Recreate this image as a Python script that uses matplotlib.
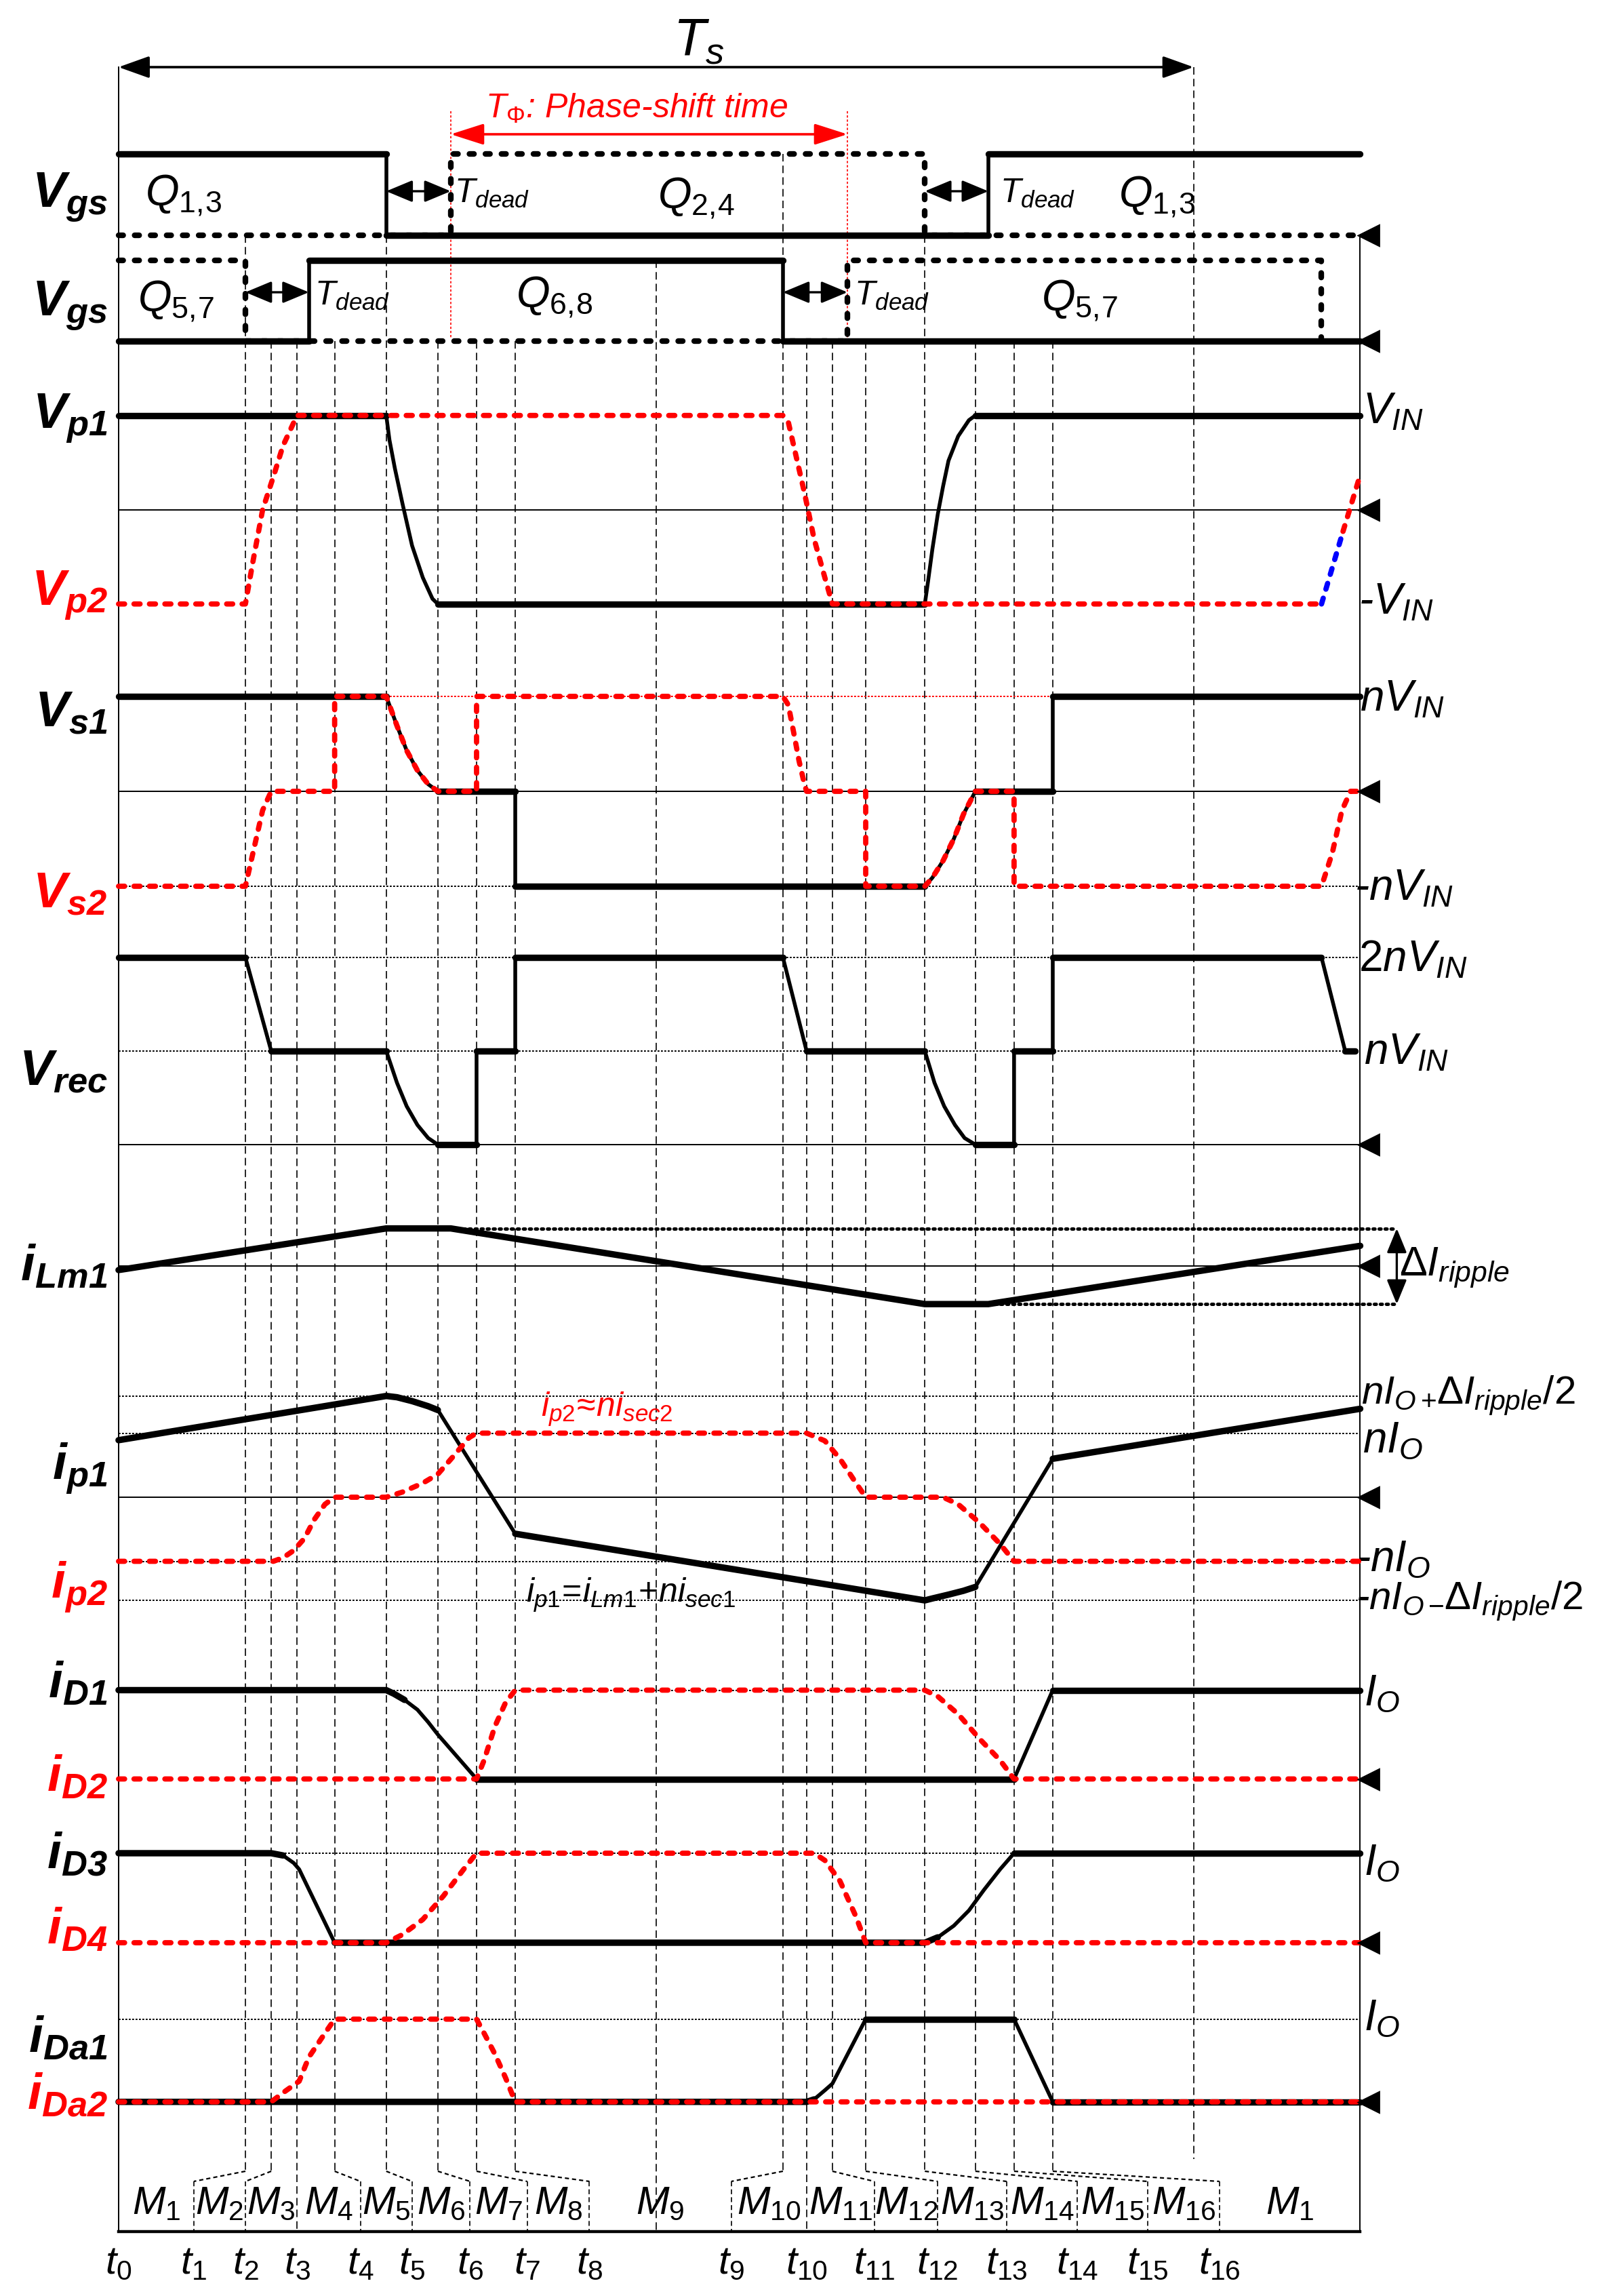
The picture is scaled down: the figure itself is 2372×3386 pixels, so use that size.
"""Timing diagram of the phase-shifted full-bridge converter (16 modes per Ts)."""

import matplotlib
matplotlib.use("Agg")
import matplotlib.pyplot as plt
import numpy as np
from matplotlib import font_manager

names = {f.name for f in font_manager.fontManager.ttflist}
FONT = "Liberation Sans" if "Liberation Sans" in names else "DejaVu Sans"

plt.rcParams.update({
    "font.family": [FONT, "DejaVu Sans"],
    "mathtext.fontset": "custom",
    "mathtext.rm": FONT,
    "mathtext.it": f"{FONT}:italic",
    "mathtext.bf": f"{FONT}:bold:italic",
    "mathtext.default": "it",
    "lines.scale_dashes": False,
})

# ---------------- time base (Ts = 100) ----------------
T_EV = [11.8, 14.2, 16.6, 20.1, 24.9, 29.7, 33.3, 36.9,
        61.8, 64.0, 66.4, 69.5, 75.0, 79.7, 83.3, 86.9]      # t1 .. t16
T_HALF, T_S, T_END = 50.0, 100.0, 115.5
T_PHI = (30.9, 67.8)
T_SEP = [0, 7.0, 11.8, 16.6, 22.5, 27.3, 32.7, 38.0, 43.8,
         57.0, 64.0, 70.3, 76.2, 82.6, 89.2, 95.7, 102.4]    # t0 .. t16 on axis
MODES = [f"M_{{{k}}}" for k in range(1, 17)] + ["M_{1}"]
T_NAMES = [f"t_{{{k}}}" for k in range(17)]

# ---------------- gate signals ----------------
VGS13_T = [0, 24.9, 24.9, 80.9, 80.9, T_END]
VGS13_V = [1, 1, 0, 0, 1, 1]
VGS24_T = [0, 30.9, 30.9, 75.0, 75.0, T_END]
VGS24_V = [0, 0, 1, 1, 0, 0]
VGS68_T = [0, 17.7, 17.7, 61.8, 61.8, T_END]
VGS68_V = [0, 0, 1, 1, 0, 0]
VGS57_T = [0, 11.8, 11.8, 67.8, 67.8, 111.9, 111.9]
VGS57_V = [1, 1, 0, 0, 1, 1, 0]

# ---------------- voltages (VIN = 1, nVIN = 1) ----------------
VP1_T = [0, 24.9, 25.2, 25.7, 26.4, 27.3, 28.3, 29.2, 29.7,
         75.0, 75.3, 75.7, 76.2, 76.7, 77.2, 78.1, 79.1, 79.7, T_END]
VP1_V = [1, 1, 0.74, 0.44, 0.07, -0.38, -0.72, -0.945, -1,
         -1, -0.76, -0.42, -0.05, 0.25, 0.52, 0.78, 0.95, 1, 1]
VP2_T = [0, 11.8, 12.5, 13.4, 14.4, 15.3, 16.6, 61.8, 62.3, 63.8, 64.7, 65.7, 66.4, 111.9]
VP2_V = [-1, -1, -0.55, 0, 0.35, 0.68, 1, 1, 0.93, 0.18, -0.31, -0.72, -1, -1]
VP2_BLUE_T = [111.9, 113.9]
VP2_BLUE_V = [-1, -0.23]
VP2_TAIL_T = [113.9, T_END]
VP2_TAIL_V = [-0.23, 0.37]

VS1_T = [0, 24.9, 25.9, 26.8, 27.8, 28.8, 29.7, 36.9, 36.9, 75.0, 75.7, 76.7, 77.7, 78.6,
         79.7, 86.9, 86.9, T_END]
VS1_V = [1, 1, 0.69, 0.43, 0.22, 0.075, 0, 0, -1, -1, -0.91, -0.73, -0.5, -0.24, 0, 0, 1, 1]
VS2_T = [0, 11.8, 12.5, 13.4, 14.2, 20.1, 20.1, 24.9, 25.9, 26.8, 27.8, 28.8, 29.7, 33.3,
         33.3, 61.8, 62.3, 62.8, 63.3, 63.8, 64.0, 69.5, 69.5, 75.0, 75.7, 76.7, 77.7, 78.6,
         79.7, 83.3, 83.3, 111.9, 112.9, 113.8, 114.6, 115.3]
VS2_V = [-1, -1, -0.65, -0.2, 0, 0, 1, 1, 0.69, 0.43, 0.22, 0.075, 0, 0,
         1, 1, 0.91, 0.62, 0.32, 0.075, 0, 0, -1, -1, -0.91, -0.73, -0.5, -0.24,
         0, 0, -1, -1, -0.65, -0.2, 0, 0]

VREC_T = [0, 11.8, 14.2, 24.9, 25.9, 26.8, 27.8, 28.8, 29.7, 33.3, 33.3, 36.9, 36.9,
          61.8, 64.0, 75.0, 75.9, 76.8, 77.8, 78.7, 79.7, 83.3, 83.3, 86.9, 86.9,
          111.9, 114.1, 115.0]
VREC_V = [2, 2, 1, 1, 0.66, 0.41, 0.21, 0.07, 0, 0, 1, 1, 2,
          2, 1, 1, 0.66, 0.41, 0.21, 0.07, 0, 0, 1, 1, 2,
          2, 1, 1]

# ---------------- currents ----------------
ILM_T = [0, 24.9, 30.9, 75.0, 80.9, T_END]          # dIripple/2 = 1
ILM_V = [-0.1, 1, 1, -1, -1, 0.54]
RIPPLE_TOP_T = [30.9, 118.9]
RIPPLE_BOT_T = [80.9, 118.9]

IP1_T = [0, 24.9, 25.9, 27.3, 28.8, 29.7, 36.9, 75.0, 75.7, 77.2, 78.6, 79.7, 86.9, T_END]
IP1_V = [0.89, 1.58, 1.56, 1.50, 1.42, 1.36, -0.57, -1.61, -1.58, -1.52, -1.46, -1.40, 0.60, 1.38]
IP2_T = [0, 14.4, 15.3, 16.3, 17.3, 18.2, 19.2, 20.1, 24.9, 26.4, 28.3, 29.7, 31.2, 32.6,
         33.3, 64.0, 65.7, 67.1, 68.6, 69.5, 76.7, 78.1, 80.1, 82.0, 83.3, T_END]
IP2_V = [-1, -1, -0.945, -0.83, -0.64, -0.35, -0.11, 0, 0, 0.08, 0.22, 0.36, 0.65, 0.93,
         1, 1, 0.88, 0.60, 0.22, 0, 0, -0.11, -0.40, -0.73, -1, -1]

ID1_T = [0, 24.9, 25.6, 26.6, 27.8, 28.8, 29.7, 33.3, 83.3, 86.9, T_END]
ID1_V = [1, 1, 0.96, 0.89, 0.78, 0.64, 0.5, 0, 0, 1, 1]
ID2_T = [0, 33.3, 34.0, 35.0, 36.0, 36.9, 75.0, 76.2, 78.1, 80.1, 82.0, 83.3, T_END]
ID2_V = [0, 0, 0.21, 0.59, 0.86, 1, 1, 0.93, 0.73, 0.45, 0.21, 0, 0]
ID3_T = [0, 14.2, 15.3, 16.3, 16.8, 20.1, 75.0, 76.2, 77.7, 79.1, 80.5, 82.0, 83.3, T_END]
ID3_V = [1, 1, 0.975, 0.89, 0.82, 0, 0, 0.06, 0.19, 0.36, 0.59, 0.82, 1, 1]
ID4_T = [0, 24.9, 26.4, 28.3, 30.2, 32.1, 33.3, 64.7, 65.7, 67.1, 68.6, 69.5, T_END]
ID4_V = [0, 0, 0.09, 0.26, 0.52, 0.82, 1, 1, 0.92, 0.69, 0.29, 0, 0]
IDA1_T = [0, 64.0, 64.7, 65.7, 66.4, 69.5, 83.3, 86.9, T_END]
IDA1_V = [0, 0, 0.03, 0.14, 0.22, 1, 1, 0, 0]
IDA2_T = [0, 14.2, 15.3, 16.8, 17.7, 19.2, 20.1, 33.3, 34.0, 35.0, 36.0, 36.9, T_END]
IDA2_V = [0, 0, 0.11, 0.25, 0.54, 0.83, 1, 1, 0.83, 0.58, 0.29, 0, 0]

# ---------------- layout (pixel rows: zero line, px per unit) ----------------
W, H, DPI = 2372, 3387, 200
PX0, SX = 174.9, 15.858
ROWS = {
    "vgs1": (348, 120), "vgs2": (504, 119), "vp": (752.7, 139), "vs": (1168, 140),
    "vrec": (1689, 138), "ilm": (1868.4, 55.8), "ip": (2209, 94.5),
    "id12": (2624.5, 131), "id34": (2866, 132), "ida": (3100.7, 122),
}
LW_THICK, LW_EDGE = 3.4, 2.0
RED = "#ff0000"

fig = plt.figure(figsize=(W / DPI, H / DPI), dpi=DPI)
ax = fig.add_axes([0, 0, 1, 1])
ax.set_xlim(-PX0 / SX, (W - PX0) / SX)
ax.set_ylim(H, 0)
ax.axis("off")


def y_of(row, v):
    base, amp = ROWS[row]
    return base - amp * np.asarray(v, float)


def draw_solid(t, v, row, color="black"):
    x = np.asarray(t, float)
    y = y_of(row, v)
    ax.plot(x, y, color=color, lw=LW_EDGE, solid_capstyle="round",
            solid_joinstyle="round", zorder=3)
    # slow parts of the waveform are drawn heavier, as in the original
    flat = np.abs(np.diff(y)) <= 0.6 * np.abs(np.diff(x)) * SX + 1e-9
    i, n = 0, len(flat)
    while i < n:
        if flat[i]:
            j = i
            while j + 1 < n and flat[j + 1]:
                j += 1
            ax.plot(x[i:j + 2], y[i:j + 2], color=color, lw=LW_THICK,
                    solid_capstyle="round", solid_joinstyle="round", zorder=3)
            i = j + 1
        else:
            i += 1


def draw_dotted(t, v, row, color=RED, lw=2.8, dashes=(3.2, 5.0), z=4):
    ax.plot(t, y_of(row, v), color=color, lw=lw, dashes=dashes,
            dash_capstyle="round", dash_joinstyle="round", zorder=z)


def hline(row, v, color="black", dotted=True, x1=T_END):
    kw = dict(dashes=(1.0, 0.8)) if dotted else {}
    ax.plot([0, x1], [y_of(row, v)] * 2, color=color, lw=0.7, zorder=1, **kw)


def arrow(x0, y0, x1, y1, color="black", hl=1.5, hw=0.48, lw=1.2):
    ax.annotate("", xy=(x1, y1), xytext=(x0, y0),
                arrowprops=dict(arrowstyle=f"<|-|>,head_length={hl},head_width={hw}",
                                color=color, lw=lw, mutation_scale=10,
                                shrinkA=0, shrinkB=0), zorder=5)


# ---------------- frame, event lines, leaders ----------------
Y_TOP_TS, Y_AXIS, Y_LA, Y_LB = 100, 3292, 3203, 3218
EV_TOP = [348, 504, 504, 504, 348, 504, 504, 504,
          228, 504, 504, 504, 348, 504, 504, 504]
DASH = dict(color="black", lw=0.6, dashes=(4.0, 2.2), zorder=1)

ax.plot([0, 0], [Y_TOP_TS, Y_AXIS], color="black", lw=0.7, zorder=1)
ax.plot([T_END, T_END], [348, Y_AXIS], color="black", lw=0.7, zorder=1)
ax.plot([0, T_END], [Y_AXIS, Y_AXIS], color="black", lw=1.6, zorder=2)
ax.plot([T_HALF, T_HALF], [385, Y_AXIS], **DASH)
ax.plot([T_S, T_S], [Y_TOP_TS, 3185], **DASH)
for tp in T_PHI:
    ax.plot([tp, tp], [165, 500], color=RED, lw=0.6, dashes=(1.2, 1.0), zorder=1)

for te, top, ts in zip(T_EV, EV_TOP, T_SEP[1:]):
    if abs(te - ts) < 0.05:
        ax.plot([te, te], [top, Y_AXIS], **DASH)
        continue
    ax.plot([te, te], [top, Y_LA], **DASH)
    ax.plot([te, ts], [Y_LA, Y_LB], color="black", lw=0.8, dashes=(2.2, 1.6), zorder=1)
    ax.plot([ts, ts], [Y_LB, Y_AXIS], color="black", lw=0.6, dashes=(2.6, 1.6), zorder=1)

# ---------------- reference levels ----------------
for row in ["vp", "vs", "vrec", "ilm", "ip"]:
    hline(row, 0, dotted=False)
hline("vs", 1, color=RED)
hline("vs", -1)
hline("vrec", 2)
hline("vrec", 1)
for lv in [1.58, 1.0, -1.0, -1.61]:
    hline("ip", lv)
for row in ["id12", "id34", "ida"]:
    hline(row, 1)

for row in ROWS:
    ax.plot([116.3], [y_of(row, 0)], marker="<", ms=11, color="black",
            mec="black", zorder=6, clip_on=False)

# ---------------- waveforms ----------------
draw_dotted(VGS24_T, VGS24_V, "vgs1", color="black", lw=3.0, dashes=(2.4, 6.1), z=2)
draw_solid(VGS13_T, VGS13_V, "vgs1")
draw_dotted(VGS57_T, VGS57_V, "vgs2", color="black", lw=3.0, dashes=(2.4, 6.1), z=2)
draw_solid(VGS68_T, VGS68_V, "vgs2")

draw_solid(VP1_T, VP1_V, "vp")
draw_dotted(VP2_T, VP2_V, "vp")
draw_dotted(VP2_BLUE_T, VP2_BLUE_V, "vp", color="#0000ff")
draw_dotted(VP2_TAIL_T, VP2_TAIL_V, "vp")

draw_solid(VS1_T, VS1_V, "vs")
draw_dotted(VS2_T, VS2_V, "vs")
draw_solid(VREC_T, VREC_V, "vrec")

draw_solid(ILM_T, ILM_V, "ilm")
for tt, lv in [(RIPPLE_TOP_T, 1), (RIPPLE_BOT_T, -1)]:
    ax.plot(tt, y_of("ilm", [lv, lv]), color="black", lw=1.8, dashes=(1.0, 2.2),
            dash_capstyle="round", zorder=2)
arrow(118.9, y_of("ilm", -1), 118.9, y_of("ilm", 1), hl=1.1, hw=0.45, lw=1.2)

draw_solid(IP1_T, IP1_V, "ip")
draw_dotted(IP2_T, IP2_V, "ip")
draw_solid(ID1_T, ID1_V, "id12")
draw_dotted(ID2_T, ID2_V, "id12")
draw_solid(ID3_T, ID3_V, "id34")
draw_dotted(ID4_T, ID4_V, "id34")
draw_solid(IDA1_T, IDA1_V, "ida")
draw_dotted(IDA2_T, IDA2_V, "ida")

# ---------------- arrows ----------------
arrow(0, Y_TOP_TS, T_S, Y_TOP_TS, hl=1.4, hw=0.5, lw=1.3)
arrow(T_PHI[0], 199, T_PHI[1], 199, color=RED, hl=1.5, hw=0.48, lw=1.3)
for a, b, yy in [(24.9, 30.9, 283), (75.0, 80.9, 283), (11.8, 17.7, 432), (61.8, 67.8, 432)]:
    arrow(a, yy, b, yy, hl=1.2, hw=0.5, lw=1.2)

# ---------------- text ----------------
ax.text(54.0, 62, r"$T_s$", fontsize=28, ha="center", va="center")
ax.text(34.1, 160, r"$T_{\Phi}$: Phase-shift time", fontsize=18, color=RED,
        style="italic", ha="left", va="center")

for tx, yy, s in [(6.0, 288, r"Q_{1,\!3}"), (53.7, 292, r"Q_{2,\!4}"), (96.6, 290, r"Q_{1,\!3}"),
                  (5.3, 444, r"Q_{5,\!7}"), (40.5, 438, r"Q_{6,\!8}"), (89.4, 443, r"Q_{5,\!7}")]:
    ax.text(tx, yy, f"${s}$", fontsize=23, ha="center", va="center")
for tx, yy in [(31.2, 285), (82.0, 285), (18.25, 436), (68.4, 436)]:
    ax.text(tx, yy, r"$T_{dead}$", fontsize=18, ha="left", va="center")

LEFT = [("V_{gs}", "black", 292), ("V_{gs}", "black", 452),
        ("V_{p1}", "black", 618), ("V_{p2}", RED, 879),
        ("V_{s1}", "black", 1051), ("V_{s2}", RED, 1318),
        ("V_{rec}", "black", 1580), ("i_{Lm1}", "black", 1868),
        ("i_{p1}", "black", 2166), ("i_{p2}", RED, 2341),
        ("i_{D1}", "black", 2483), ("i_{D2}", RED, 2621),
        ("i_{D3}", "black", 2735), ("i_{D4}", RED, 2846),
        ("i_{Da1}", "black", 3006), ("i_{Da2}", RED, 3090)]
for s, c, yy in LEFT:
    ax.text(-1.0, yy, rf"$\mathbf{{{s}}}$", fontsize=27, color=c, ha="right", va="center")

RIGHT = [(r"$V_{IN}$", 2010, 608, 23), (r"-$V_{IN}$", 2004, 889, 23),
         (r"$nV_{IN}$", 2006, 1032, 23), (r"-$nV_{IN}$", 1998, 1311, 23),
         (r"$2nV_{IN}$", 2004, 1416, 23), (r"$nV_{IN}$", 2012, 1553, 23),
         (r"$\Delta I_{ripple}$", 2064, 1870, 22),
         (r"$nI_{O+}\!\Delta I_{ripple}/2$", 2008, 2058, 21), (r"$nI_O$", 2010, 2125, 23),
         (r"-$nI_O$", 2000, 2300, 23), (r"-$nI_{O-}\!\Delta I_{ripple}/2$", 2000, 2361, 21),
         (r"$I_O$", 2012, 2498, 23), (r"$I_O$", 2012, 2748, 23), (r"$I_O$", 2012, 2977, 23)]
for s, xp, yy, fs in RIGHT:
    ax.text((xp - PX0) / SX, yy, s, fontsize=fs, style="italic", ha="left", va="center")

ax.text(39.3, 2078, r"$i_{p2}\!\approx\!ni_{sec2}$", fontsize=18, color=RED,
        ha="left", va="center")
ax.text(37.9, 2352, r"$i_{p1}\!=\!i_{Lm1}\!+\!ni_{sec1}$", fontsize=18,
        ha="left", va="center")

bounds = T_SEP + [T_END]
for k, s in enumerate(MODES):
    ax.text(0.5 * (bounds[k] + bounds[k + 1]), 3250, f"${s}$", fontsize=21,
            ha="center", va="center")
for ts, s in zip(T_SEP, T_NAMES):
    ax.text(ts, 3338, f"${s}$", fontsize=21, ha="center", va="center")

fig.savefig("out.png", dpi=DPI)
